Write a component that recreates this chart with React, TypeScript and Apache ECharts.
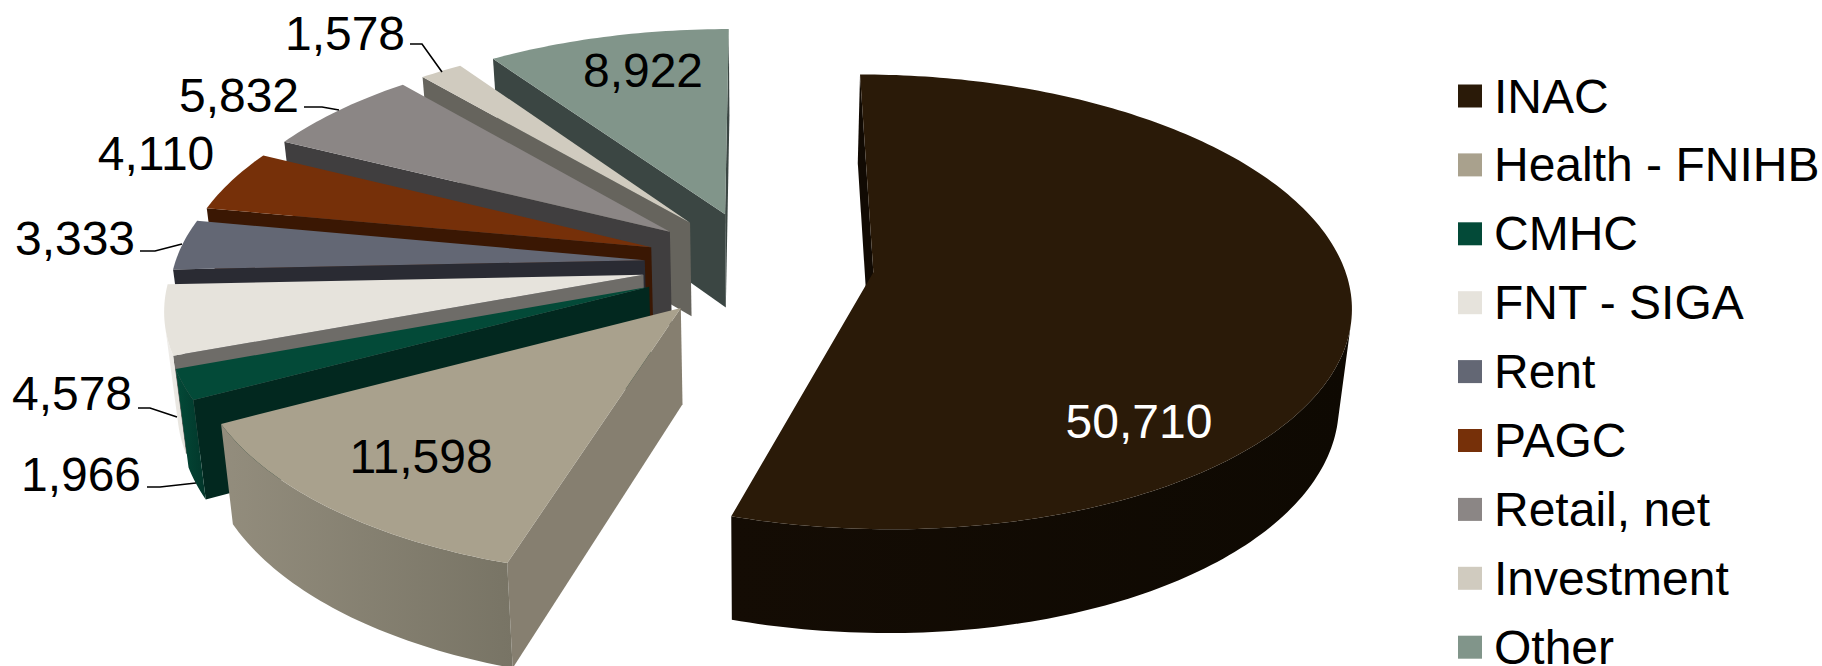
import React, { useEffect, useRef } from "react";
import * as echarts from "echarts";

const categories = ["INAC", "Health - FNIHB", "CMHC", "FNT - SIGA", "Rent", "PAGC", "Retail, net", "Investment", "Other"];
const values = [50710, 11598, 1966, 4578, 3333, 4110, 5832, 1578, 8922];

const topColors = ["#2a1a08", "#a9a18d", "#034a38", "#e6e3dc", "#636774", "#763009", "#8b8685", "#d0cbbf", "#81958a"];
const wallColors = ["#110a03", "#867f70", "#02281f", "#6e6c68", "#2a2b33", "#3a1703", "#403e3f", "#66645d", "#3b4643"];
const arcFrom = ["#140c04", "#938d7d", "#034a38", "#efedea", "#2a2b33", "#3a1703", "#403e3f", "#66645d", "#3b4643"];
const arcTo = ["#0e0902", "#787465", "#02362a", "#e6e3dc", "#2a2b33", "#3a1703", "#403e3f", "#66645d", "#3b4643"];

// label centre positions and colours, by category
const labelX = [1139, 421, 81, 72, 75, 156, 239, 345, 643];
const labelY = [421, 456, 474, 393, 238, 153, 95, 33, 70];
const labelFill = ["#ffffff", "#000000", "#000000", "#000000", "#000000", "#000000", "#000000", "#000000", "#000000"];
const leaders: (number[][] | null)[] = [
  null,
  null,
  [[147, 487], [160, 487], [196, 483]],
  [[138, 408], [150, 408], [177, 417]],
  [[140, 251], [155, 251], [182, 244]],
  null,
  [[304, 107], [322, 107], [339, 110]],
  [[410, 44], [422, 44], [442, 72]],
  null,
];

// projection of the tilted pie, and how far each slice is pulled out
const CX = 758, CY = 264, A = 470, B = 221.4, P = 0.13, DEPTH = 97, SHRINK = 0.978;
const explode = [0.247, 0.251, 0.25, 0.247, 0.242, 0.242, 0.242, 0.242, 0.242];
const total = values.reduce((a, b) => a + b, 0);
const toRad = (v: number) => (v / total) * Math.PI * 2;

function project(X: number, Y: number, bottom: boolean): number[] {
  let s = 1 / (1 - P * Y);
  if (bottom) s *= SHRINK;
  return [CX + A * X * s, CY + B * Y * s + (bottom ? DEPTH * s : 0)];
}

function area(pts: number[][]): number {
  let sum = 0;
  for (let i = 0; i < pts.length; i++) {
    const a = pts[i], b = pts[(i + 1) % pts.length];
    sum += a[0] * b[1] - b[0] * a[1];
  }
  return sum / 2;
}

function makeRender(idx: number) {
  return (_params: any, api: any) => {
    const value = api.value(0) as number;
    const before = values.slice(0, idx).reduce((a, b) => a + b, 0);
    const t0 = toRad(before);
    const t1 = t0 + toRad(value);
    const mid = (t0 + t1) / 2;
    const ax = explode[idx] * Math.sin(mid);
    const ay = -explode[idx] * Math.cos(mid);
    const pt = (t: number, bottom: boolean) => project(ax + Math.sin(t), ay - Math.cos(t), bottom);
    const steps = Math.max(4, Math.ceil((t1 - t0) / (Math.PI / 180)));
    const angles: number[] = [];
    for (let i = 0; i <= steps; i++) angles.push(t0 + ((t1 - t0) * i) / steps);

    const apexTop = project(ax, ay, false);
    const apexBot = project(ax, ay, true);
    const children: any[] = [];
    const poly = (points: number[][], fill: any) => ({
      type: "polygon",
      shape: { points },
      style: { fill, stroke: "none" },
      silent: true,
    });

    const startWall = [apexTop, pt(t0, false), pt(t0, true), apexBot];
    const endWall = [pt(t1, false), apexTop, apexBot, pt(t1, true)];
    if (area(startWall) < 0) children.push(poly(startWall, wallColors[idx]));
    if (area(endWall) < 0) children.push(poly(endWall, wallColors[idx]));

    const upper: number[][] = [];
    const lower: number[][] = [];
    for (let i = 0; i < steps; i++) {
      const q = [pt(angles[i], false), pt(angles[i + 1], false), pt(angles[i + 1], true), pt(angles[i], true)];
      if (area(q) < 0) {
        if (upper.length === 0) {
          upper.push(q[0]);
          lower.push(q[3]);
        }
        upper.push(q[1]);
        lower.push(q[2]);
      }
    }
    if (upper.length > 1) {
      const fill = new echarts.graphic.LinearGradient(0, 0, 1, 0, [
        { offset: 0, color: arcFrom[idx] },
        { offset: 1, color: arcTo[idx] },
      ]);
      children.push(poly(upper.concat(lower.reverse()), fill));
    }

    children.push(poly([apexTop, ...angles.map((t) => pt(t, false))], topColors[idx]));

    const leader = leaders[idx];
    if (leader) {
      children.push({
        type: "polyline",
        shape: { points: leader },
        style: { fill: "none", stroke: "#000000", lineWidth: 1.6 },
        silent: true,
      });
    }
    children.push({
      type: "text",
      silent: true,
      style: {
        text: value.toLocaleString("en-US"),
        x: labelX[idx],
        y: labelY[idx],
        fill: labelFill[idx],
        align: "center",
        verticalAlign: "middle",
        font: '48px "Liberation Sans", Arial, sans-serif',
      },
    });
    return { type: "group", children };
  };
}

export default function App() {
  const ref = useRef<HTMLDivElement>(null);
  useEffect(() => {
    document.body.style.margin = "0";
    const chart = echarts.init(ref.current!, undefined, { renderer: "svg" });
    chart.setOption({
      animation: false,
      backgroundColor: "#ffffff",
      legend: {
        orient: "vertical",
        left: 1458,
        top: 72,
        height: 640,
        padding: 0,
        itemWidth: 24,
        itemHeight: 23,
        itemGap: 20.9,
        icon: "rect",
        data: categories,
        selectedMode: false,
        textStyle: {
          fontFamily: '"Liberation Sans", Arial, sans-serif',
          fontSize: 48,
          color: "#000000",
          padding: [0, 0, 0, 7],
        },
      },
      series: categories.map((name, i) => ({
        type: "custom",
        name,
        coordinateSystem: "none",
        z: 2 + categories.length - i,
        silent: true,
        itemStyle: { color: topColors[i] },
        data: [[values[i]]],
        renderItem: makeRender(i),
      })),
    });
    return () => chart.dispose();
  }, []);
  return <div ref={ref} style={{ position: "absolute", left: 0, top: 0, width: 1822, height: 666 }} />;
}
